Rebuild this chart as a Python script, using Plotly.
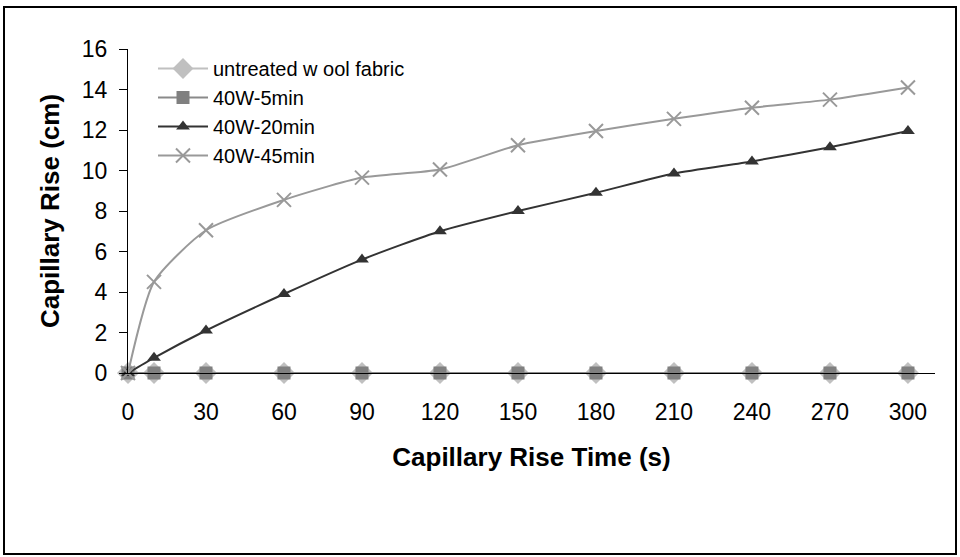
import plotly.graph_objects as go

# Capillary rise measurements (time in seconds, rise in cm)
time_s = [0, 10, 30, 60, 90, 120, 150, 180, 210, 240, 270, 300]
untreated = [0, 0, 0, 0, 0, 0, 0, 0, 0, 0, 0, 0]
w40_5min = [0, 0, 0, 0, 0, 0, 0, 0, 0, 0, 0, 0]
w40_20min = [0, 0.75, 2.1, 3.9, 5.6, 7.0, 8.0, 8.9, 9.85, 10.45, 11.15, 11.95]
w40_45min = [0, 4.5, 7.05, 8.55, 9.65, 10.05, 11.25, 11.95, 12.55, 13.1, 13.5, 14.1]

x_ticks = [0, 30, 60, 90, 120, 150, 180, 210, 240, 270, 300]
y_ticks = [0, 2, 4, 6, 8, 10, 12, 14, 16]

FONT = "Liberation Sans, Arial, sans-serif"

# plot area in pixels: left 128, right 935, top 49, bottom 373
PW, PH = 807, 324

series = [
    ("untreated w ool fabric", untreated, "#c0c0c0", "#c0c0c0", "diamond", 17),
    ("40W-5min", w40_5min, "#8a8a8a", "#808080", "square", 13),
    ("40W-20min", w40_20min, "#333333", "#333333", "triangle-up", 12),
    ("40W-45min", w40_45min, "#999999", "#999999", "x-thin", 14),
]

fig = go.Figure()
for name, ys, lc, mc, sym, size in series:
    marker = dict(symbol=sym, size=size, color=mc)
    if sym == "x-thin":
        marker["line"] = dict(color=mc, width=2)
    fig.add_trace(go.Scatter(
        x=time_s, y=ys, name=name, mode="lines+markers",
        line=dict(color=lc, width=2, shape="spline", smoothing=0.6),
        marker=marker, cliponaxis=False,
    ))

fig.update_layout(
    width=960, height=557,
    margin=dict(l=128, r=960 - 128 - PW, t=49, b=557 - 49 - PH),
    paper_bgcolor="white", plot_bgcolor="white",
    font=dict(family=FONT, size=23, color="black"),
    showlegend=True,
    legend=dict(
        x=25 / PW, y=1.0, xanchor="left", yanchor="top",
        bgcolor="rgba(0,0,0,0)", font=dict(size=20),
        tracegroupgap=0, itemwidth=50,
    ),
    xaxis=dict(
        range=[0, 310.4], tickvals=x_ticks, ticktext=[str(v) for v in x_ticks],
        showgrid=False, zeroline=False, showline=True, linecolor="black",
        linewidth=1, ticks="", ticklabelstandoff=18,
        title=dict(text="<b>Capillary Rise Time (s)</b>", standoff=24,
                   font=dict(size=26)),
    ),
    yaxis=dict(
        range=[0, 16], tickvals=y_ticks, ticktext=[str(v) for v in y_ticks],
        showgrid=False, zeroline=False, showline=True, linecolor="black",
        linewidth=1, ticks="outside", ticklen=8, tickcolor="black",
        ticklabelstandoff=7,
        title=dict(text="<b>Capillary Rise (cm)</b>", standoff=14,
                   font=dict(size=26)),
    ),
    shapes=[dict(type="rect", xref="paper", yref="paper",
                 x0=(4 - 128) / PW, x1=(956 - 128) / PW,
                 y0=(373 - 554) / PH, y1=(373 - 7) / PH,
                 line=dict(color="black", width=2))],
)

fig.write_html("out.html")
